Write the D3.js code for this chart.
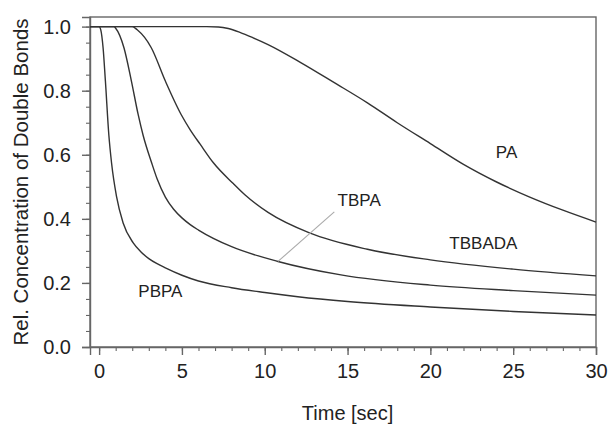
<!DOCTYPE html>
<html>
<head>
<meta charset="utf-8">
<script src="https://cdn.jsdelivr.net/npm/d3@7"></script>
<style>
  html, body { margin: 0; padding: 0; background: #fff; }
  svg { display: block; }
  text { font-family: "Liberation Sans", Arial, Helvetica, sans-serif; fill: #222; }
</style>
</head>
<body>
<svg id="chart" width="610" height="424"></svg>
<script>
// ---- data ----
const seriesNames = ["PBPA", "TBPA", "TBBADA", "PA"];

const timePBPA  = [-0.55, 0, 0.1, 0.24, 0.38, 0.59, 0.75, 1.05, 1.45, 2.06, 2.5, 3.0, 3.5, 4.0, 5.0, 6.0, 8.0, 10.0, 12.0, 15.0, 20.0, 25.0, 30.0];
const valuePBPA = [1.0, 1.0, 0.99, 0.934, 0.83, 0.66, 0.575, 0.47, 0.387, 0.325, 0.298, 0.276, 0.26, 0.247, 0.224, 0.206, 0.185, 0.17, 0.157, 0.142, 0.125, 0.111, 0.100];

const timeTBPA  = [-0.55, 0.9, 1.0, 1.5, 1.95, 2.36, 2.66, 3.17, 3.5, 4.0, 4.5, 5.0, 5.5, 6.0, 8.0, 10.8, 14.6, 20.0, 25.0, 30.0];
const valueTBPA = [1.0, 1.0, 0.995, 0.934, 0.83, 0.725, 0.66, 0.575, 0.525, 0.468, 0.43, 0.403, 0.382, 0.365, 0.313, 0.267, 0.225, 0.193, 0.176, 0.162];

const timeTBBADA  = [-0.55, 2.0, 2.3, 3.15, 4.0, 4.96, 5.5, 6.1, 6.9, 8.1, 8.8, 10.2, 12.7, 16.2, 20.0, 25.0, 30.0];
const valueTBBADA = [1.0, 1.0, 0.99, 0.934, 0.83, 0.725, 0.678, 0.633, 0.575, 0.51, 0.475, 0.42, 0.356, 0.305, 0.272, 0.243, 0.222];

const timePA  = [-0.55, 6.5, 7.2, 7.8, 8.5, 9.3, 10.2, 12.2, 14.2, 16.2, 18.0, 20.0, 22.0, 24.0, 26.0, 28.0, 30.0];
const valuePA = [1.0, 1.0, 0.999, 0.994, 0.982, 0.965, 0.944, 0.887, 0.825, 0.762, 0.70, 0.635, 0.57, 0.515, 0.468, 0.427, 0.39];

const xTickValues = [0, 5, 10, 15, 20, 25, 30];
const yTickValues = [0.0, 0.2, 0.4, 0.6, 0.8, 1.0];
const xMinorTicks = d3.range(0, 30.01, 1);
const yMinorTicks = d3.range(0, 1.001, 0.05);

const labelNames = ["PA", "TBBADA", "TBPA", "PBPA"];
const labelTimes = [24.6, 23.2, 15.7, 3.7];
const labelValues = [0.59, 0.305, 0.44, 0.155];

// ---- layout ----
const svg = d3.select("#chart");
const mLeft = 90, mRight = 596, mTop = 17, mBottom = 347;

const x = d3.scaleLinear().domain([-0.55, 30]).range([mLeft, mRight]);
const y = d3.scaleLinear().domain([0, 1.03]).range([mBottom, mTop]);

const axisColor = "#666";

// frame
svg.append("rect")
  .attr("x", mLeft).attr("y", mTop)
  .attr("width", mRight - mLeft).attr("height", mBottom - mTop)
  .attr("fill", "none").attr("stroke", axisColor).attr("stroke-width", 1.4);

// x axis
const xAxis = svg.append("g").attr("transform", `translate(0,${mBottom})`)
  .call(d3.axisBottom(x).tickValues(xTickValues).tickFormat(d3.format("d")).tickSize(8).tickPadding(9));
xAxis.select(".domain").attr("stroke", axisColor).attr("stroke-width", 1.4);
xAxis.selectAll(".tick line").attr("stroke", axisColor).attr("stroke-width", 1.4);
xAxis.selectAll(".tick text").style("font-size", "20px").attr("fill", "#222")
  .style("font-family", "'Liberation Sans', Arial, sans-serif");

svg.append("g").attr("transform", `translate(0,${mBottom})`)
  .call(d3.axisBottom(x).tickValues(xMinorTicks).tickFormat("").tickSize(4))
  .call(g => g.select(".domain").remove())
  .selectAll(".tick line").attr("stroke", axisColor).attr("stroke-width", 1.1);

// y axis
const yAxis = svg.append("g").attr("transform", `translate(${mLeft},0)`)
  .call(d3.axisLeft(y).tickValues(yTickValues).tickFormat(d3.format(".1f")).tickSize(8).tickPadding(11));
yAxis.select(".domain").attr("stroke", axisColor).attr("stroke-width", 1.4);
yAxis.selectAll(".tick line").attr("stroke", axisColor).attr("stroke-width", 1.4);
yAxis.selectAll(".tick text").style("font-size", "20px").attr("fill", "#222")
  .style("font-family", "'Liberation Sans', Arial, sans-serif");

svg.append("g").attr("transform", `translate(${mLeft},0)`)
  .call(d3.axisLeft(y).tickValues(yMinorTicks).tickFormat("").tickSize(4))
  .call(g => g.select(".domain").remove())
  .selectAll(".tick line").attr("stroke", axisColor).attr("stroke-width", 1.1);

// axis titles
svg.append("text")
  .attr("x", (x(0) + x(30)) / 2).attr("y", 420)
  .attr("text-anchor", "middle")
  .style("font-size", "20px")
  .text("Time [sec]");

svg.append("text")
  .attr("transform", `translate(28,${(mTop + mBottom) / 2}) rotate(-90)`)
  .attr("text-anchor", "middle")
  .style("font-size", "20.5px")
  .text("Rel. Concentration of Double Bonds");

// curves
const series = [
  { name: "PBPA", t: timePBPA, v: valuePBPA },
  { name: "TBPA", t: timeTBPA, v: valueTBPA },
  { name: "TBBADA", t: timeTBBADA, v: valueTBBADA },
  { name: "PA", t: timePA, v: valuePA }
];

const line = d3.line()
  .x(d => x(d[0])).y(d => y(d[1]))
  .curve(d3.curveMonotoneX);

svg.append("g").selectAll("path")
  .data(series)
  .join("path")
  .attr("d", s => line(s.t.map((t, i) => [t, s.v[i]])))
  .attr("fill", "none")
  .attr("stroke", "#333")
  .attr("stroke-width", 1.4);

// leader line for TBPA
svg.append("line")
  .attr("x1", x(14.2)).attr("y1", y(0.422))
  .attr("x2", x(10.8)).attr("y2", y(0.267))
  .attr("stroke", "#aaa").attr("stroke-width", 1.1);

// curve labels
svg.append("g").selectAll("text")
  .data(labelNames)
  .join("text")
  .attr("x", (d, i) => x(labelTimes[i]))
  .attr("y", (d, i) => y(labelValues[i]))
  .attr("text-anchor", "middle")
  .style("font-size", "17px")
  .text(d => d);
</script>
</body>
</html>
